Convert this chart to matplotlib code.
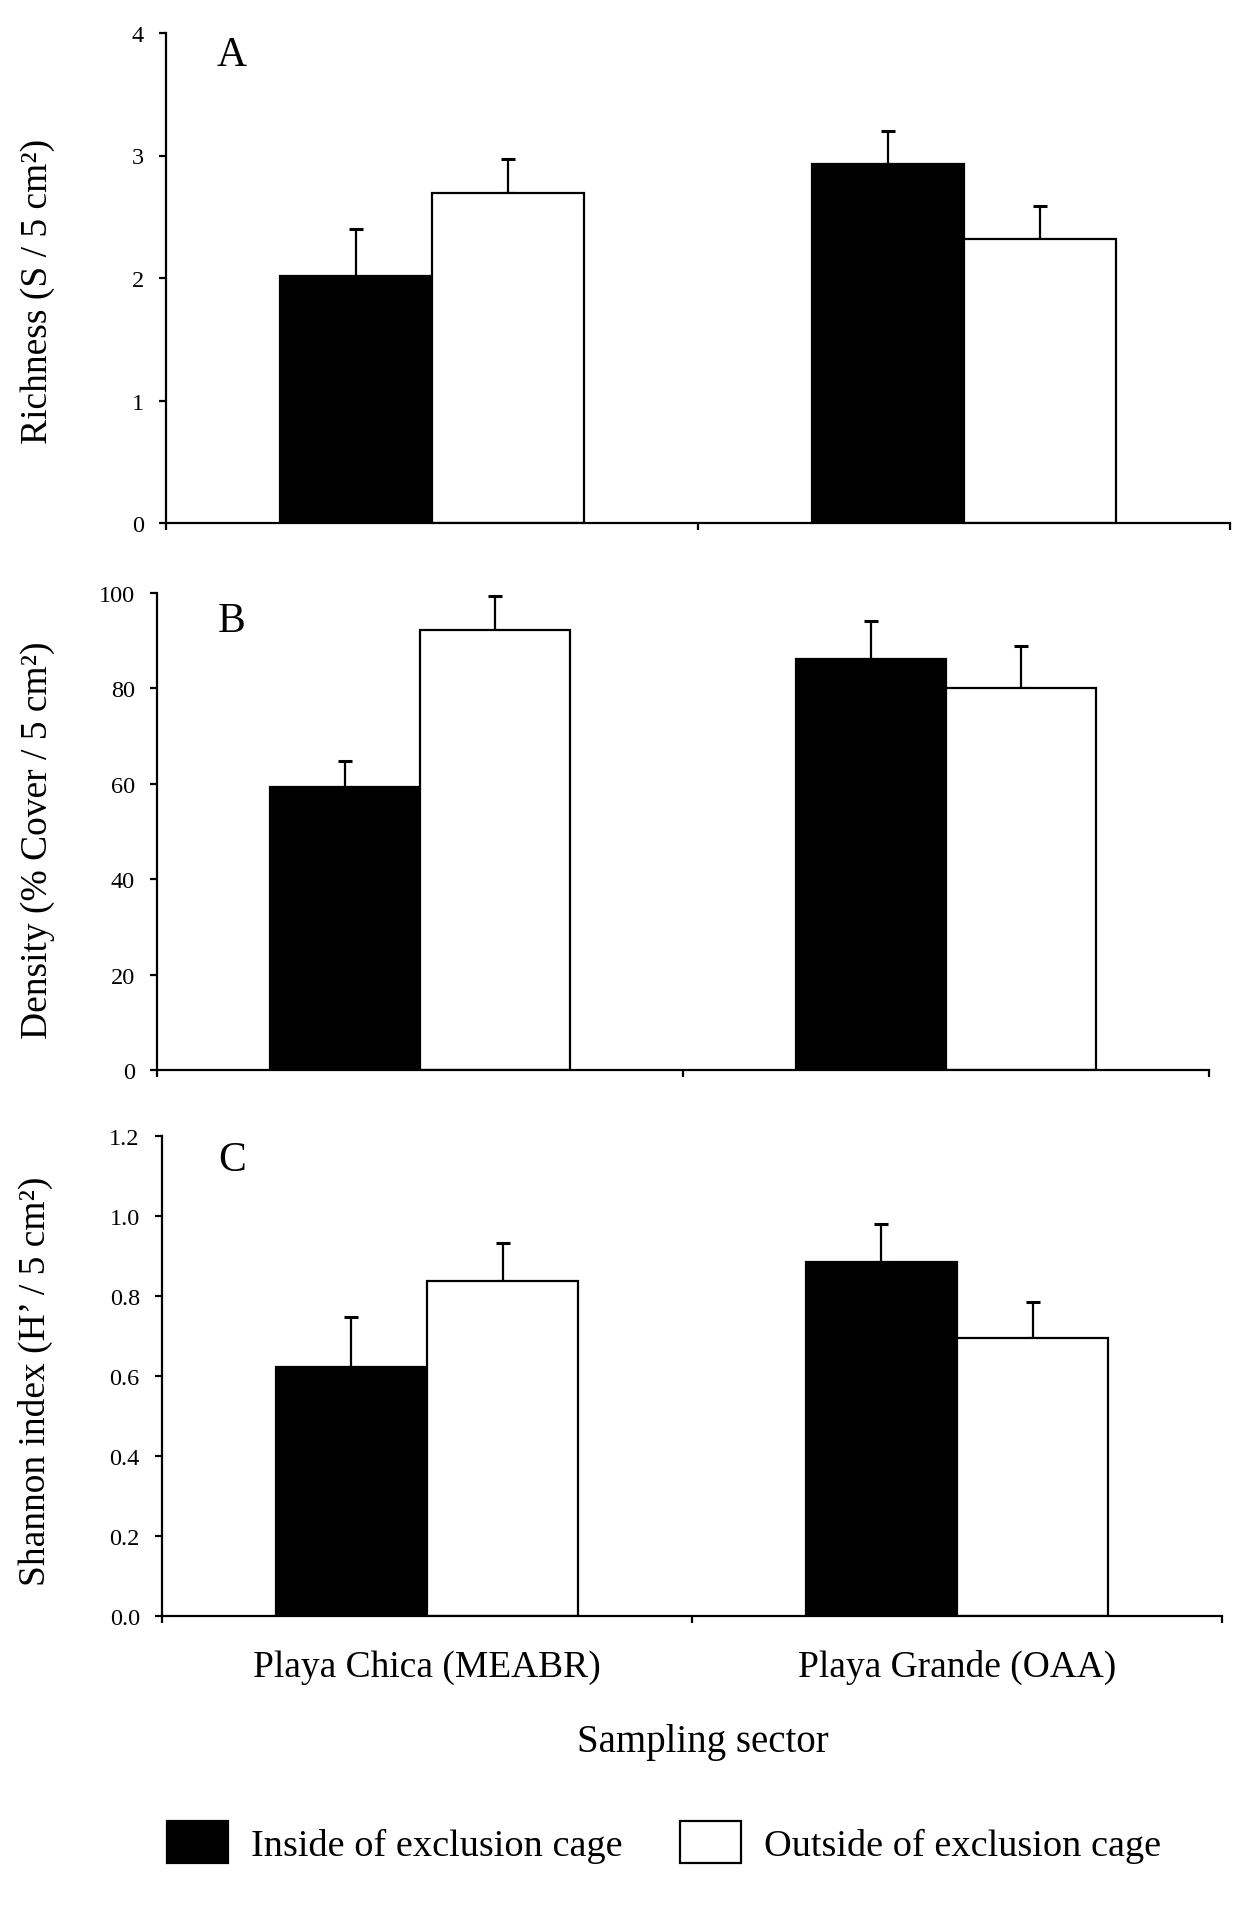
import numpy as np
import matplotlib
matplotlib.use("Agg")
import matplotlib.pyplot as plt
from matplotlib.patches import Patch

plt.rcParams["font.family"] = ["Liberation Serif", "DejaVu Serif"]

sectors = ["Playa Chica (MEABR)", "Playa Grande (OAA)"]
series = ["Inside of exclusion cage", "Outside of exclusion cage"]

# panel A: richness
rich_in = [2.02, 2.93]
rich_in_se = [0.38, 0.27]
rich_out = [2.69, 2.32]
rich_out_se = [0.28, 0.27]

# panel B: density
dens_in = [59.3, 86.2]
dens_in_se = [5.4, 8.0]
dens_out = [92.2, 80.1]
dens_out_se = [7.1, 8.7]

# panel C: shannon
shan_in = [0.623, 0.884]
shan_in_se = [0.124, 0.097]
shan_out = [0.838, 0.695]
shan_out_se = [0.095, 0.089]

W, H = 1260, 1908
fig = plt.figure(figsize=(W / 100, H / 100), dpi=100)

def px_axes(left, right, top, bottom):
    return fig.add_axes([left / W, 1 - bottom / H, (right - left) / W, (bottom - top) / H])

ax_a = px_axes(166, 1230, 34, 524)
ax_b = px_axes(157, 1209, 594, 1071)
ax_c = px_axes(162, 1222, 1137, 1617)

LW = 1.6
BW = 0.2857

panels = [
    (ax_a, rich_in, rich_in_se, rich_out, rich_out_se, (0, 4), np.arange(0, 5, 1), "{:.0f}",
     "Richness (S / 5 cm²)", "A", (-0.121, 0.4755), (0.062, 0.955)),
    (ax_b, dens_in, dens_in_se, dens_out, dens_out_se, (0, 100), np.arange(0, 101, 20), "{:.0f}",
     "Density (% Cover / 5 cm²)", "B", (-0.113, 0.484), (0.071, 0.941)),
    (ax_c, shan_in, shan_in_se, shan_out, shan_out_se, (0, 1.2), np.arange(0, 1.21, 0.2), "{:.1f}",
     "Shannon index (H’ / 5 cm²)", "C", (-0.119, 0.492), (0.066, 0.95)),
]

x = np.arange(len(sectors))
for ax, v_in, e_in, v_out, e_out, ylim, yt, fmt, ylab, letter, lab_xy, let_xy in panels:
    ax.bar(x - BW / 2, v_in, BW, color="black", edgecolor="black", linewidth=LW, zorder=3,
           label=series[0])
    ax.bar(x + BW / 2, v_out, BW, color="white", edgecolor="black", linewidth=LW, zorder=3,
           label=series[1])
    ax.errorbar(x - BW / 2, v_in, yerr=[np.zeros(len(x)), e_in], fmt="none", ecolor="black",
                elinewidth=LW, capsize=5, capthick=2.2, zorder=2)
    ax.errorbar(x + BW / 2, v_out, yerr=[np.zeros(len(x)), e_out], fmt="none", ecolor="black",
                elinewidth=LW, capsize=5, capthick=2.2, zorder=2)

    ax.set_xlim(-0.5, 1.5)
    ax.set_ylim(*ylim)
    ax.set_yticks(yt)
    ax.set_yticklabels([fmt.format(t) for t in yt], fontsize=17.5)
    ax.set_xticks(x)
    ax.set_xticks([-0.5, 0.5, 1.5], minor=True)
    ax.tick_params(axis="x", which="major", length=0, pad=24, labelsize=27)
    ax.tick_params(axis="x", which="minor", length=5, width=LW, direction="out")
    ax.tick_params(axis="y", length=5, width=LW, direction="out", pad=11)
    for s in ["top", "right"]:
        ax.spines[s].set_visible(False)
    for s in ["left", "bottom"]:
        ax.spines[s].set_linewidth(LW)
        ax.spines[s].set_zorder(4)

    ax.set_ylabel(ylab, fontsize=27, va="center")
    ax.yaxis.set_label_coords(*lab_xy)
    ax.text(let_xy[0], let_xy[1], letter, transform=ax.transAxes, ha="center", va="center",
            fontsize=30)

ax_a.set_xticklabels([])
ax_b.set_xticklabels([])
ax_c.set_xticklabels(sectors)
ax_c.set_xlabel("Sampling sector", fontsize=28, va="center")
ax_c.xaxis.set_label_coords(0.51, -0.2625)

handles = [Patch(facecolor="black", edgecolor="black", linewidth=LW),
           Patch(facecolor="white", edgecolor="black", linewidth=LW)]
fig.legend(handles, series, loc="center", bbox_to_anchor=(664 / W, 1 - 1843 / H), ncol=2,
           frameon=False, fontsize=27.5, handlelength=1.6, handleheight=1.3,
           handletextpad=0.6, columnspacing=1.5)

fig.savefig("out.png", dpi=100, facecolor="white")
